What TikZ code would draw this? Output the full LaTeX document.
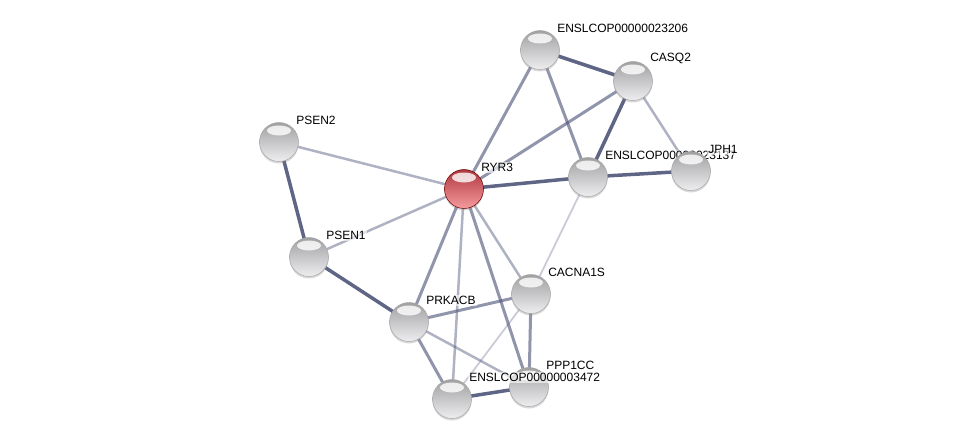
\documentclass[tikz,border=0pt]{standalone}
\usepackage{fontspec}
\setmainfont{Liberation Sans}
\usetikzlibrary{shadows}
\definecolor{edgeblue}{RGB}{78,84,120}
\definecolor{balltop}{RGB}{160,160,162}
\definecolor{ballmid}{RGB}{212,212,214}
\definecolor{ballbot}{RGB}{238,238,240}
\definecolor{redtop}{RGB}{175,55,62}
\definecolor{redmid}{RGB}{215,105,110}
\definecolor{redbot}{RGB}{245,155,158}
\tikzset{
    protein/.style = {
        circle,
        minimum size=39pt,
        inner sep=0pt,
        top color=balltop,
        middle color=ballmid,
        bottom color=ballbot,
        draw=gray!70,
        line width=0.5pt,
        drop shadow={opacity=0.3, shadow xshift=0pt, shadow yshift=-2pt},
        path picture={\fill[white, fill opacity=0.8]
            ([yshift=-8pt]path picture bounding box.north) ellipse (12pt and 5pt);},
        label={[tag]above right:#1}
    },
    query/.style = {
        protein=#1,
        top color=redtop,
        middle color=redmid,
        bottom color=redbot,
        draw=red!40!black
    },
    tag/.style = {
        label distance=3pt,
        inner sep=1pt,
        fill=white,
        fill opacity=0.6,
        text opacity=1,
        font=\fontsize{12}{13}\selectfont
    },
    strong/.style = {
        edgeblue,
        draw opacity=0.9,
        line width=3.5pt
    },
    medium/.style = {
        edgeblue,
        draw opacity=0.62,
        line width=3pt
    },
    weak/.style = {
        edgeblue,
        draw opacity=0.45,
        line width=2.5pt
    },
    faint/.style = {
        edgeblue,
        draw opacity=0.3,
        line width=1.8pt
    }
}

\begin{document}
\begin{tikzpicture}[x=1pt, y=-1pt]
    \useasboundingbox (0,0) rectangle (975,444);

    % Place all proteins
    \coordinate (psen2)   at (279,142);
    \coordinate (psen1)   at (309,257);
    \coordinate (ryr3)    at (464,189);
    \coordinate (e23206)  at (540,50);
    \coordinate (casq2)   at (633,81);
    \coordinate (prkacb)  at (409,322);
    \coordinate (cacna1s) at (531,294);
    \coordinate (ppp1cc)  at (529,387);
    \coordinate (e3472)   at (452,399);
    \coordinate (e23137)  at (588,177);
    \coordinate (jph1)    at (691,171);

    % Draw interactions
    \draw[strong] (e23206) -- (casq2);
    \draw[medium] (e23206) -- (ryr3);
    \draw[medium] (e23206) -- (e23137);
    \draw[medium] (casq2) -- (ryr3);
    \draw[strong] (casq2) -- (e23137);
    \draw[weak]   (casq2) -- (jph1);
    \draw[strong] (e23137) -- (jph1);
    \draw[strong] (ryr3) -- (e23137);
    \draw[faint]  (e23137) -- (cacna1s);
    \draw[weak]   (ryr3) -- (psen2);
    \draw[weak]   (ryr3) -- (psen1);
    \draw[strong] (psen2) -- (psen1);
    \draw[strong] (psen1) -- (prkacb);
    \draw[medium] (ryr3) -- (prkacb);
    \draw[weak]   (ryr3) -- (e3472);
    \draw[medium] (ryr3) -- (ppp1cc);
    \draw[weak]   (ryr3) -- (cacna1s);
    \draw[medium] (prkacb) -- (cacna1s);
    \draw[medium] (prkacb) -- (e3472);
    \draw[weak]   (prkacb) -- (ppp1cc);
    \draw[faint]  (cacna1s) -- (e3472);
    \draw[medium] (cacna1s) -- (ppp1cc);
    \draw[strong] (e3472) -- (ppp1cc);

    % Draw proteins
    \node[protein=PSEN2]   (n-psen2)   at (psen2) {};
    \node[protein=PSEN1]   (n-psen1)   at (psen1) {};
    \node[query=RYR3]      (n-ryr3)    at (ryr3) {};
    \node[protein=ENSLCOP00000023206] (n-e23206) at (e23206) {};
    \node[protein=CASQ2]   (n-casq2)   at (casq2) {};
    \node[protein=PRKACB]  (n-prkacb)  at (prkacb) {};
    \node[protein=CACNA1S] (n-cacna1s) at (cacna1s) {};
    \node[protein=PPP1CC]  (n-ppp1cc)  at (ppp1cc) {};
    \node[protein=ENSLCOP00000003472] (n-e3472) at (e3472) {};
    \node[protein=ENSLCOP00000023137] (n-e23137) at (e23137) {};
    \node[protein=JPH1]    (n-jph1)    at (jph1) {};
\end{tikzpicture}
\end{document}
